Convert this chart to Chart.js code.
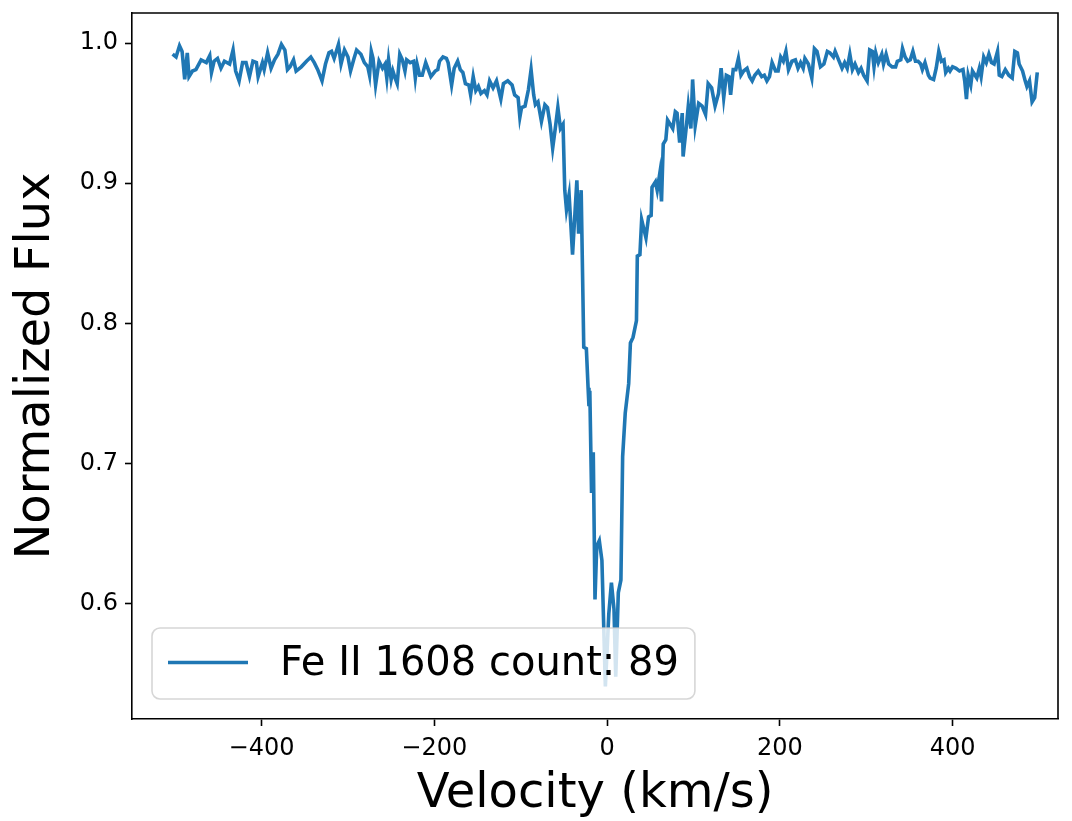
<!DOCTYPE html>
<html>
<head>
<meta charset="utf-8">
<script src="https://cdn.jsdelivr.net/npm/chart.js@4.4.1/dist/chart.umd.min.js"></script>
<style>
  html, body { margin: 0; padding: 0; background: #fff; }
  #wrap { width: 1072px; height: 821px; }
</style>
</head>
<body>
<div id="wrap"><canvas id="chart" width="1072" height="821"></canvas></div>
<script>
// Fe II 1608 line profile
const lineLabel = 'Fe II 1608 count: 89';

const velocity = [
  -503, -499, -495, -492, -489, -486, -484, -480, -476, -470, -464, -460, -458, -455, -451, -447,
  -443, -437, -433, -430, -426, -422, -418, -414, -410, -406, -404, -399, -397, -393, -389, -385,
  -381, -377, -373, -370, -367, -363, -360, -354, -348, -343, -339, -335, -330, -326, -322, -319,
  -316, -311, -308, -304, -300, -297, -293, -290, -285, -281,
  -277, -275, -273, -271, -268, -264, -260, -257, -255, -253, -250, -248, -246, -243, -240, -237,
  -234, -232, -228, -224, -222, -220, -217, -214, -210, -207, -204, -199, -196, -194, -190, -186,
  -184, -180, -177, -173, -170, -167, -164, -160, -158, -155, -152, -149, -146, -142, -139, -136,
  -132, -128, -123, -120, -115, -110, -107, -103, -101, -99, -95, -91, -88, -85, -83, -80,
  -76, -72, -69, -66, -63, -60, -57, -54, -51,
  -49, -47, -44, -40, -35, -33, -30, -27, -24, -22, -21, -20, -18, -16, -14, -12,
  -9, -6, -2, 2, 5, 8, 10, 13, 16, 18, 21, 25, 27, 30, 34, 35,
  38, 40, 45, 48, 51, 52, 56, 58, 61, 63, 65, 68, 70, 73, 76, 79,
  81, 84, 87, 88, 92, 94, 97, 99, 102, 106, 110, 114, 117, 121, 125, 129,
  132, 135, 138, 141, 143, 146, 149, 152, 155, 158, 162, 165, 168, 171, 175, 179,
  182, 185, 188, 191, 195, 198, 201, 204, 207, 210, 214, 218, 221, 224, 227, 229,
  233, 237, 240, 243, 247, 251, 255, 258, 262, 264, 268, 272, 275, 278, 281, 284,
  287, 291, 294, 297, 301, 304, 307, 309, 311, 314, 318, 320, 323, 326, 330, 334,
  336, 340, 342, 345, 348, 351, 354, 357, 360, 363, 365, 368, 372, 374, 378, 381,
  384, 387, 390, 392, 395, 397, 400, 404, 408, 412, 414, 416, 418, 421, 423, 426,
  428, 431, 433, 436, 439, 442, 445, 448, 452, 454, 457, 461, 465, 469, 472, 475,
  477, 481, 484, 486, 489, 492, 495, 498
];

const flux = [
  0.992, 0.990, 0.998, 0.994, 0.974, 0.993, 0.976, 0.980, 0.981, 0.988, 0.986, 0.991, 0.979, 0.987, 0.989, 0.982,
  0.987, 0.985, 0.995, 0.980, 0.973, 0.986, 0.986, 0.976, 0.987, 0.986, 0.976, 0.986, 0.981, 0.993, 0.982, 0.988,
  0.992, 0.999, 0.995, 0.981, 0.983, 0.988, 0.980, 0.983, 0.987, 0.990, 0.986, 0.981, 0.973, 0.985, 0.993, 0.994,
  0.989, 0.999, 0.985, 0.995, 0.990, 0.980, 0.989, 0.995, 0.992, 0.986,
  0.983, 0.977, 0.994, 0.989, 0.970, 0.987, 0.982, 0.985, 0.975, 0.988, 0.974, 0.980, 0.976, 0.971, 0.992, 0.988,
  0.980, 0.988, 0.986, 0.987, 0.975, 0.985, 0.977, 0.977, 0.986, 0.981, 0.976, 0.980, 0.981, 0.987, 0.990, 0.989,
  0.986, 0.970, 0.982, 0.987, 0.981, 0.979, 0.971, 0.970, 0.963, 0.976, 0.966, 0.969, 0.964, 0.966, 0.963, 0.973,
  0.968, 0.973, 0.960, 0.971, 0.973, 0.970, 0.963, 0.961, 0.947, 0.954, 0.955, 0.967, 0.981, 0.963, 0.956, 0.958,
  0.944, 0.956, 0.954, 0.942, 0.925, 0.939, 0.954, 0.939, 0.942,
  0.895, 0.881, 0.892, 0.849, 0.902, 0.864, 0.895, 0.783, 0.782, 0.754, 0.741, 0.752, 0.679, 0.708, 0.603, 0.641,
  0.645, 0.631, 0.541, 0.593, 0.615, 0.596, 0.548, 0.608, 0.617, 0.705, 0.736, 0.757, 0.786, 0.790, 0.802, 0.848,
  0.849, 0.874, 0.861, 0.876, 0.877, 0.897, 0.901, 0.895, 0.907, 0.887, 0.928, 0.931, 0.945, 0.942, 0.939, 0.951,
  0.950, 0.929, 0.950, 0.919, 0.942, 0.955, 0.939, 0.974, 0.941, 0.957, 0.955, 0.949, 0.971, 0.968, 0.955, 0.964,
  0.982, 0.961, 0.977, 0.976, 0.963, 0.981, 0.981, 0.989, 0.977, 0.980, 0.982, 0.976, 0.973, 0.977, 0.980, 0.976,
  0.977, 0.973, 0.976, 0.986, 0.980, 0.980, 0.990, 0.987, 0.994, 0.981, 0.987, 0.988, 0.982, 0.986, 0.982, 0.989,
  0.985, 0.975, 0.996, 0.994, 0.983, 0.985, 0.994, 0.993, 0.990, 0.994, 0.988, 0.982, 0.986, 0.982, 0.992, 0.981,
  0.985, 0.979, 0.982, 0.977, 0.973, 0.995, 0.994, 0.983, 0.993, 0.986, 0.992, 0.985, 0.992, 0.985, 0.983, 0.983,
  0.987, 0.988, 0.996, 0.990, 0.987, 0.988, 0.994, 0.987, 0.987, 0.985, 0.981, 0.986, 0.977, 0.975, 0.974, 0.982,
  0.994, 0.987, 0.988, 0.979, 0.982, 0.980, 0.983, 0.982, 0.980, 0.981, 0.973, 0.960, 0.977, 0.970, 0.980, 0.977,
  0.975, 0.982, 0.976, 0.990, 0.986, 0.992, 0.986, 0.985, 0.994, 0.977, 0.976, 0.981, 0.977, 0.975, 0.994, 0.993,
  0.985, 0.980, 0.973, 0.969, 0.973, 0.958, 0.961, 0.979
];

const xTicks = [-400, -200, 0, 200, 400];
const yTicks = [0.6, 0.7, 0.8, 0.9, 1.0];

const FONT = '"DejaVu Sans", "Liberation Sans", sans-serif';
Chart.defaults.font.family = FONT;
Chart.defaults.color = '#000';

// top + right spines (matplotlib box)
const framePlugin = {
    id: 'frame',
    afterDraw(chart) {
        const {ctx, chartArea: a} = chart;
        ctx.save();
        ctx.strokeStyle = '#000';
        ctx.lineWidth = 1.6;
        ctx.beginPath();
        ctx.moveTo(a.left, a.top);
        ctx.lineTo(a.right, a.top);
        ctx.lineTo(a.right, a.bottom);
        ctx.stroke();
        ctx.restore();
    }
};

// matplotlib-like legend in the lower left, semi transparent
const legendPlugin = {
    id: 'mplLegend',
    afterDatasetsDraw(chart) {
        const {ctx, chartArea: a} = chart;
        const ds = chart.data.datasets[0];
        const F = 40;
        ctx.save();
        ctx.font = F + 'px ' + FONT;
        const tw = ctx.measureText(ds.label).width;
        const x0 = a.left + 0.5 * F;
        const y1 = a.bottom - 0.5 * F;
        const h = 71;
        const y0 = y1 - h;
        const w = 0.4 * F + 2 * F + 0.8 * F + tw + 0.4 * F;
        const r = 8;
        ctx.beginPath();
        ctx.moveTo(x0 + r, y0);
        ctx.arcTo(x0 + w, y0, x0 + w, y1, r);
        ctx.arcTo(x0 + w, y1, x0, y1, r);
        ctx.arcTo(x0, y1, x0, y0, r);
        ctx.arcTo(x0, y0, x0 + w, y0, r);
        ctx.closePath();
        ctx.fillStyle = 'rgba(255,255,255,0.8)';
        ctx.fill();
        ctx.strokeStyle = 'rgba(204,204,204,0.8)';
        ctx.lineWidth = 1.6;
        ctx.stroke();

        const cy = y0 + h / 2 - 1;
        ctx.strokeStyle = ds.borderColor;
        ctx.lineWidth = ds.borderWidth;
        ctx.beginPath();
        ctx.moveTo(x0 + 0.4 * F, cy);
        ctx.lineTo(x0 + 2.4 * F, cy);
        ctx.stroke();

        ctx.fillStyle = '#000';
        ctx.textBaseline = 'alphabetic';
        ctx.textAlign = 'left';
        ctx.fillText(ds.label, x0 + 3.2 * F, y0 + 47);
        ctx.restore();
    }
};

var chart = new Chart(document.getElementById('chart'), {
    type: 'line',
    data: {
        datasets: [{
            label: lineLabel,
            data: velocity.map((v, i) => ({x: v, y: flux[i]})),
            borderColor: '#1f77b4',
            borderWidth: 3.6,
            pointRadius: 0,
            tension: 0,
            fill: false
        }]
    },
    options: {
        responsive: false,
        animation: false,
        devicePixelRatio: 1,
        layout: {padding: {top: 13, right: 14, left: 0, bottom: 0}},
        plugins: {
            legend: {display: false},
            tooltip: {enabled: false}
        },
        scales: {
            x: {
                type: 'linear',
                position: 'bottom',
                min: -550,
                max: 522,
                afterBuildTicks: s => { s.ticks = xTicks.map(v => ({value: v})); },
                afterFit: s => { s.height = 102; s.paddingLeft = 0; s.paddingRight = 0; },
                ticks: {
                    font: {size: 24, lineHeight: 1},
                    color: '#000',
                    padding: 11,
                    maxRotation: 0,
                    callback: v => String(v).replace('-', '\u2212')
                },
                grid: {drawOnChartArea: false, drawTicks: true, tickLength: 7, tickWidth: 1.6, tickColor: '#000'},
                border: {display: true, color: '#000', width: 1.6},
                title: {
                    display: true,
                    text: 'Velocity (km/s)',
                    font: {size: 48, lineHeight: 1},
                    color: '#000',
                    padding: {top: 0, bottom: 2}
                }
            },
            y: {
                type: 'linear',
                min: 0.5178,
                max: 1.0214,
                afterBuildTicks: s => { s.ticks = yTicks.map(v => ({value: v})); },
                afterFit: s => { s.width = 132; s.paddingTop = 0; s.paddingBottom = 0; },
                ticks: {
                    font: {size: 24, lineHeight: 1},
                    color: '#000',
                    padding: 7,
                    callback: v => v.toFixed(1)
                },
                grid: {drawOnChartArea: false, drawTicks: true, tickLength: 7, tickWidth: 1.6, tickColor: '#000'},
                border: {display: true, color: '#000', width: 1.6},
                title: {
                    display: true,
                    text: 'Normalized Flux',
                    font: {size: 48, lineHeight: 1},
                    color: '#000',
                    padding: {top: 13, bottom: 0}
                }
            }
        }
    },
    plugins: [legendPlugin, framePlugin]
});
</script>
</body>
</html>
